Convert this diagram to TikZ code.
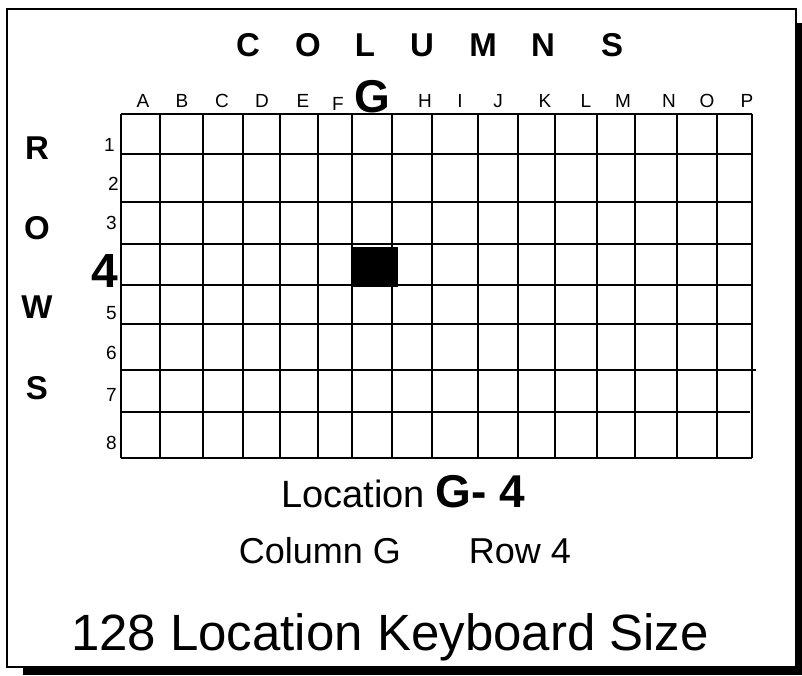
\documentclass[tikz,border=0pt]{standalone}
\usepackage{fontspec}
\setmainfont{Liberation Sans}
\usetikzlibrary{positioning}
\begin{document}
\begin{tikzpicture}[x=1pt, y=-1pt,
  gridline/.style={line width=2pt},
  collabel/.style={font=\fontsize{19}{19}\selectfont, anchor=base, inner sep=0pt},
  rowlabel/.style={font=\fontsize{19}{19}\selectfont, anchor=east, inner sep=0pt},
  headletter/.style={font=\fontsize{33}{33}\selectfont\bfseries, inner sep=0pt},
  bigbold/.style={font=\fontsize{46}{46}\selectfont\bfseries, inner sep=0pt}]
  \useasboundingbox (0,0) rectangle (802,675);
  % Ombre et cadre
  \fill (23,23) rectangle (802,675);
  \draw[line width=2pt, fill=white] (7,9) rectangle (796,667);
  % Grille
  \foreach \x in {121,160,203,243,280,318,352,392,432,478,518,555,597,635,677,717,752}
    \draw[gridline] (\x,114) -- (\x,458);
  \foreach \y/\xe in {114/752,154/752,202/752,244/752,285/752,324/752,370/756,412/750,458/752}
    \draw[gridline] (121,\y) -- (\xe,\y);
  % Case G-4
  \fill (352,247) rectangle (398,287);
  % Titre COLUMNS
  \foreach \lab/\x [count=\i] in {C/248,O/308,L/365,U/422,M/483,N/543,S/612}
    \node[headletter] (head\i) at (\x,45) {\lab};
  % Titre ROWS
  \foreach \lab/\y [count=\i] in {R/148,O/228,W/307,S/388}
    \node[headletter] (side\i) at (37,\y) {\lab};
  % Lettres des colonnes
  \foreach \lab/\x in {A/143,B/182,C/222,D/262,E/303,H/425,I/460,J/498,K/545,L/586,M/623,N/669,O/707,P/747}
    \node[collabel] (col\lab) at (\x,107) {\lab};
  \node[collabel] (colF) at (338,110) {F};
  \node[bigbold, anchor=base] (colG) at (372,112) {G};
  % Numeros des lignes
  \foreach \n/\x/\y in {1/115/145,2/119/184,3/117/223,5/117/313,6/117/353,7/117/395,8/117/443}
    \node[rowlabel] (row\n) at (\x,\y) {\n};
  \node[font=\fontsize{48}{48}\selectfont\bfseries, anchor=east, inner sep=0pt] (row4) at (118,271) {4};
  % Legendes
  \node[anchor=base, inner sep=0pt] (location) at (403,507)
    {\fontsize{38}{38}\selectfont Location {\fontsize{46}{46}\selectfont\bfseries G- 4}};
  \node[anchor=base, inner sep=0pt, font=\fontsize{36}{36}\selectfont] (colinfo) at (320,563) {Column G};
  \node[anchor=base, inner sep=0pt, font=\fontsize{36}{36}\selectfont] (rowinfo) at (520,563) {Row 4};
  \node[anchor=base, inner sep=0pt, font=\fontsize{51}{51}\selectfont] (size) at (390,650) {128 Location Keyboard Size};
\end{tikzpicture}
\end{document}
